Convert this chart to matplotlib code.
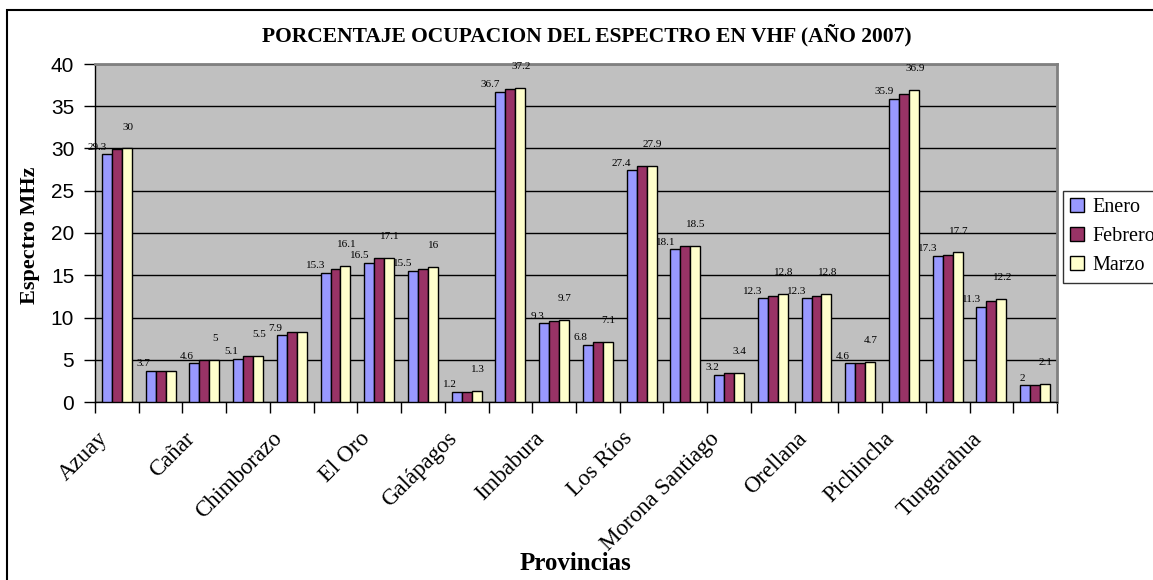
import matplotlib
matplotlib.use("Agg")
import matplotlib.pyplot as plt
import matplotlib.transforms as mtransforms
from matplotlib.patches import Rectangle, Patch
import numpy as np

provincias = ['Azuay', 'Bolívar', 'Cañar', 'Carchi', 'Chimborazo', 'Cotopaxi',
              'El Oro', 'Esmeraldas', 'Galápagos', 'Guayas', 'Imbabura', 'Loja',
              'Los Ríos', 'Manabí', 'Morona Santiago', 'Napo', 'Orellana',
              'Pastaza', 'Pichincha', 'Sucumbíos', 'Tungurahua', 'Zamora Chinchipe']
enero = [29.3, 3.7, 4.6, 5.1, 7.9, 15.3, 16.5, 15.5, 1.2, 36.7, 9.3, 6.8,
         27.4, 18.1, 3.2, 12.3, 12.3, 4.6, 35.9, 17.3, 11.3, 2.0]
febrero = [29.9, 3.7, 5.0, 5.4, 8.3, 15.7, 17.0, 15.7, 1.2, 37.0, 9.6, 7.1,
           27.9, 18.5, 3.4, 12.6, 12.6, 4.6, 36.5, 17.4, 11.9, 2.0]
marzo = [30.0, 3.7, 5.0, 5.5, 8.3, 16.1, 17.1, 16.0, 1.3, 37.2, 9.7, 7.1,
         27.9, 18.5, 3.4, 12.8, 12.8, 4.7, 36.9, 17.7, 12.2, 2.1]
# groups whose Marzo value carries no label
sin_etiqueta_marzo = [1, 4]

meses = ['Enero', 'Febrero', 'Marzo']
colores = ['#9999FF', '#993366', '#FFFFCC']

serif = 'Liberation Serif'

fig = plt.figure(figsize=(11.53, 5.80), dpi=100)
ax = fig.add_axes([95 / 1153, 1 - 402 / 580, 962 / 1153, 338 / 580])
ax.set_facecolor('#C0C0C0')

x = np.arange(len(provincias))
w = 0.228
for i, (serie, col) in enumerate(zip([enero, febrero, marzo], colores)):
    ax.bar(x + (i - 1) * w, serie, width=w, color=col, edgecolor='black',
           linewidth=1.0, zorder=3, label=meses[i])

# value labels
for k in range(len(provincias)):
    ax.text(x[k] - 1.5 * w + 0.11, enero[k] + 0.3, '{:g}'.format(enero[k]),
            ha='right', va='bottom', fontsize=8, family=serif, zorder=4)
    if k not in sin_etiqueta_marzo:
        ax.text(x[k] + w + 0.02, marzo[k] + 2.0, '{:g}'.format(marzo[k]),
                ha='center', va='bottom', fontsize=8, family=serif, zorder=4)

ax.set_xlim(-0.5, len(provincias) - 0.5)
ax.set_ylim(0, 40)
ax.set_yticks(range(0, 41, 5))
ax.yaxis.grid(True, color='black', linewidth=1.0, zorder=1)
ax.set_axisbelow(True)
ax.tick_params(axis='y', direction='out', length=8, width=1, pad=7,
               labelsize=15)
for t in ax.get_yticklabels():
    t.set_family('Liberation Sans')

# category names on every other group, slanted
ax.set_xticks(np.arange(-0.5, len(provincias)))
ax.set_xticklabels([])
ax.tick_params(axis='x', direction='out', length=8, width=1)
shift = mtransforms.ScaledTranslation(-0.20, -0.26, fig.dpi_scale_trans)
for k in x[::2]:
    ax.text(k, 0, provincias[k], transform=ax.get_xaxis_transform() + shift,
            rotation=45, ha='right', va='top', rotation_mode='anchor',
            fontsize=16.5, family=serif)

for s in ['top', 'right']:
    ax.spines[s].set_color('#808080')
    ax.spines[s].set_linewidth(2)
for s in ['left', 'bottom']:
    ax.spines[s].set_color('black')
    ax.spines[s].set_linewidth(1)

fig.text(587 / 1153, 1 - 35 / 580,
         'PORCENTAJE OCUPACION DEL ESPECTRO EN VHF (AÑO 2007)',
         ha='center', va='center', fontsize=15.5, fontweight='bold', family=serif)
fig.text(30 / 1153, 1 - 235 / 580, 'Espectro MHz', rotation=90,
         ha='center', va='center', fontsize=16, fontweight='bold', family=serif)
fig.text(575 / 1153, 1 - 563 / 580, 'Provincias', ha='center', va='center',
         fontsize=18, fontweight='bold', family=serif)

handles = [Patch(facecolor=c, edgecolor='black', linewidth=1) for c in colores]
leg = fig.legend(handles, meses, loc='upper left',
                 bbox_to_anchor=(1063 / 1153, 1 - 191 / 580),
                 prop={'family': serif, 'size': 14.5}, frameon=True,
                 fancybox=False, shadow=False, borderpad=0.35,
                 handlelength=0.7, handleheight=0.7, handletextpad=0.4,
                 labelspacing=0.5, borderaxespad=0)
leg.get_frame().set_edgecolor('black')
leg.get_frame().set_linewidth(1)

fig.patches.append(Rectangle((7 / 1153, -0.1), 2, 1.1 - 10 / 580,
                             transform=fig.transFigure, fill=False,
                             edgecolor='black', linewidth=1.5))

fig.savefig('out.png', dpi=100)
